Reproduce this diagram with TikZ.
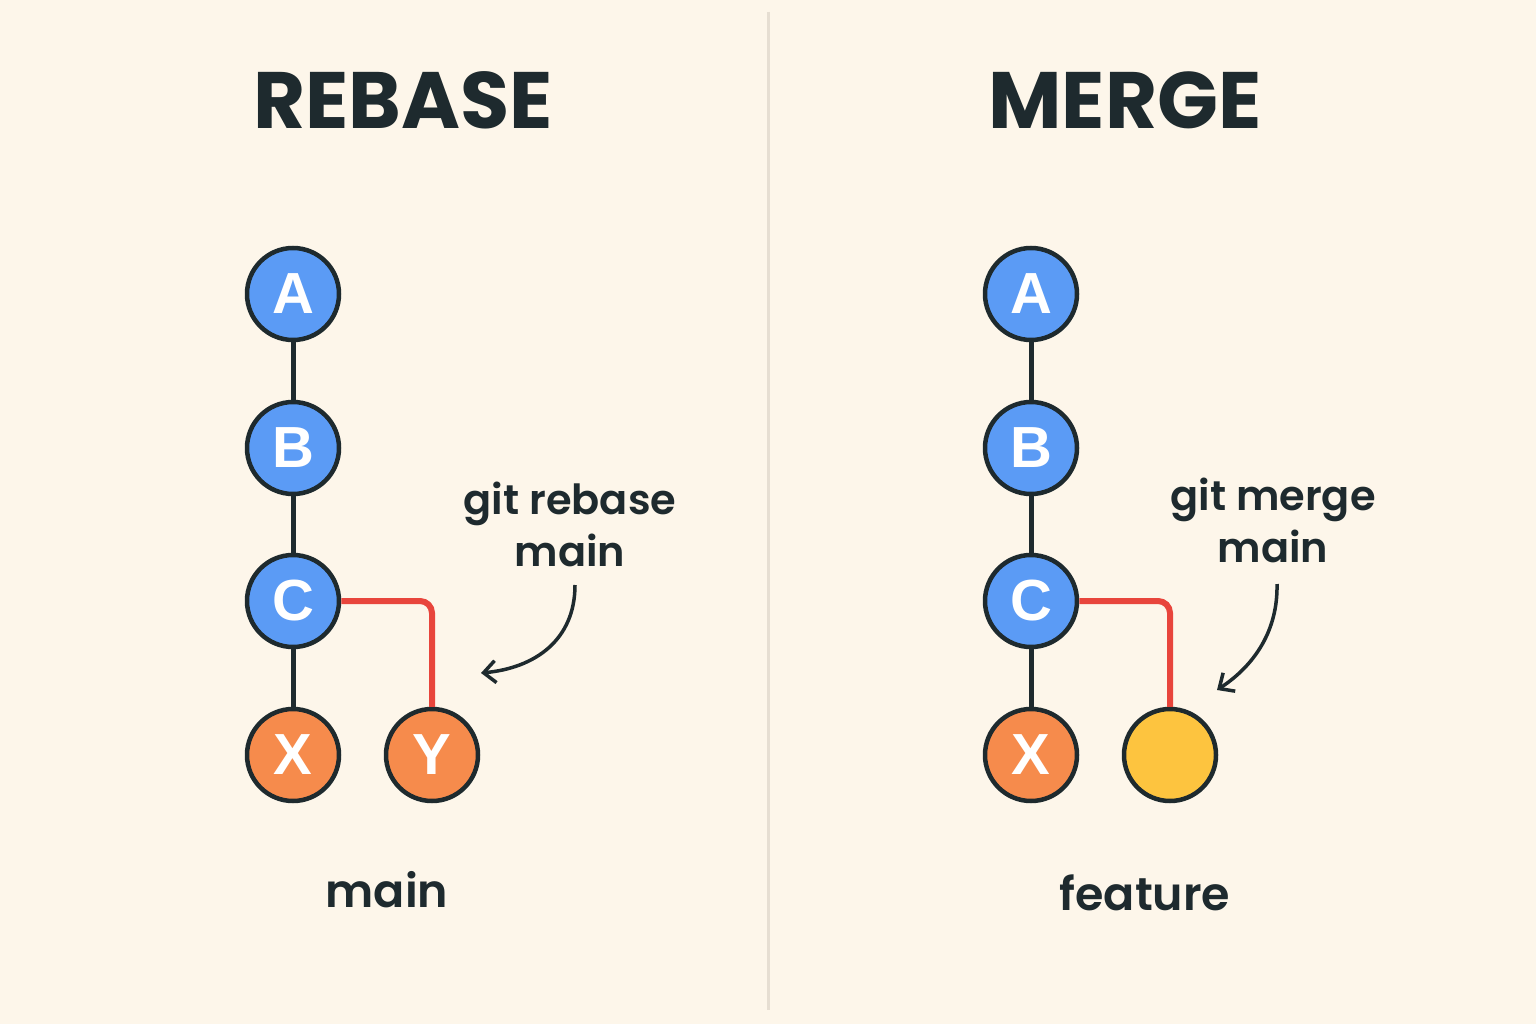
\documentclass[tikz,border=0pt]{standalone}
\usepackage{fontspec}
\setmainfont{Poppins}
\newfontfamily\semib{Poppins SemiBold}
\newfontfamily\nodefont{Liberation Sans}
\usetikzlibrary{arrows.meta}
\definecolor{bg}{HTML}{FDF6EA}
\definecolor{ink}{HTML}{1E2A2E}
\definecolor{cblue}{HTML}{5B9BF5}
\definecolor{corange}{HTML}{F68B4C}
\definecolor{cyellow}{HTML}{FDC43F}
\definecolor{cred}{HTML}{E8453C}
\definecolor{divider}{HTML}{E6DED2}
\tikzset{
  commit/.style={circle, draw=ink, line width=4.5pt, minimum size=92pt, inner sep=0pt,
    text=white, font=\nodefont\bfseries\fontsize{58}{58}\selectfont},
  bluec/.style={commit, fill=cblue},
  orangec/.style={commit, fill=corange},
  yellowc/.style={commit, fill=cyellow},
  edge/.style={draw=ink, line width=5pt},
  redge/.style={draw=cred, line width=6pt, rounded corners=12pt},
  title/.style={text=ink, font=\bfseries\fontsize{80}{80}\selectfont},
  lbl/.style={text=ink, font=\semib\fontsize{41.5}{52}\selectfont, align=center},
  branch/.style={text=ink, font=\semib\fontsize{46}{46}\selectfont},
  pointer/.style={draw=ink, line width=3.5pt, -{Straight Barb[length=12pt,width=22pt,line width=3.5pt]}}
}
\begin{document}
\begin{tikzpicture}[x=1pt,y=-1pt]
\useasboundingbox (0,0) rectangle (1536,1024);
\fill[bg] (0,0) rectangle (1536,1024);
\coordinate (dtop) at (768,12);
\coordinate (dbot) at (768,1010);
\draw[divider, line width=3pt] (dtop) -- (dbot);

% ---------- REBASE ----------
\node[title] (t1) at (403,100) {REBASE};
\node[bluec] (A1) at (293,294) {A};
\node[bluec] (B1) at (293,448) {B};
\node[bluec] (C1) at (293,601) {C};
\node[orangec] (X1) at (293,755) {X};
\node[orangec] (Y1) at (432,755) {Y};
\draw[edge] (A1) -- (B1);
\draw[edge] (B1) -- (C1);
\draw[edge] (C1) -- (X1);
\draw[redge] (C1.east) -| (Y1.north);
\node[lbl] (l1) at (570,524) {git rebase\\main};
\coordinate (p1s) at (575,585);
\coordinate (p1e) at (481,673);
\draw[pointer] (p1s) .. controls (575,640) and (535,668) .. (p1e);
\node[branch] (m1) at (387,890) {main};

% ---------- MERGE ----------
\node[title] (t2) at (1125,100) {MERGE};
\node[bluec] (A2) at (1031,294) {A};
\node[bluec] (B2) at (1031,448) {B};
\node[bluec] (C2) at (1031,601) {C};
\node[orangec] (X2) at (1031,755) {X};
\node[yellowc] (Y2) at (1170,755) {};
\draw[edge] (A2) -- (B2);
\draw[edge] (B2) -- (C2);
\draw[edge] (C2) -- (X2);
\draw[redge] (C2.east) -| (Y2.north);
\node[lbl] (l2) at (1273,520) {git merge\\main};
\coordinate (p2s) at (1277,584);
\coordinate (p2e) at (1217,690);
\draw[pointer] (p2s) .. controls (1278,630) and (1255,665) .. (p2e);
\node[branch] (m2) at (1145,893) {feature};
\end{tikzpicture}
\end{document}
